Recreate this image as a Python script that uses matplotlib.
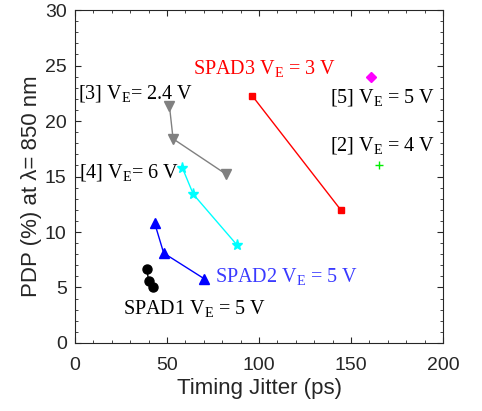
import matplotlib.pyplot as plt
from matplotlib.ticker import MultipleLocator

# Timing jitter (ps) vs PDP (%) at 850 nm
spad1_x = [39.0, 40.0, 42.3]
spad1_y = [6.7, 5.6, 5.0]
spad2_x = [43.3, 48.2, 70.1]
spad2_y = [10.8, 8.1, 5.8]
spad3_x = [96.2, 144.4]
spad3_y = [22.3, 12.0]
ref3_x = [51.3, 53.3, 82.2]
ref3_y = [21.4, 18.4, 15.2]
ref4_x = [58.3, 64.3, 88.2]
ref4_y = [15.8, 13.4, 8.8]
ref5_x = [160.9]
ref5_y = [24.0]
ref2_x = [165.0]
ref2_y = [16.0]

AXC = "#262626"
plt.rcParams.update({
    "font.family": "Liberation Sans",
    "mathtext.fontset": "custom",
    "mathtext.rm": "Liberation Serif",
})

fig = plt.figure(figsize=(4.82, 4.11), dpi=100)
ax = fig.add_axes([0.1556, 0.1655, 0.7635, 0.81])

ax.plot(spad1_x, spad1_y, "o-", color="black", ms=6.5, lw=1)
ax.plot(spad2_x, spad2_y, "^-", color="blue", ms=7, lw=1)
ax.plot(spad3_x, spad3_y, "s-", color="red", ms=5, lw=1)
ax.plot(ref3_x, ref3_y, "v-", color="gray", ms=7, lw=1)
ax.plot(ref4_x, ref4_y, "*-", color="cyan", ms=8, lw=1)
ax.plot(ref5_x, ref5_y, "D", color="magenta", ms=5)
ax.plot(ref2_x, ref2_y, "+", color="#00ee00", ms=6, mew=1)

tk = dict(family="Liberation Serif", fontsize=14.5)
ax.text(103, 24.7, r"SPAD3 V$_{\rm E}$ = 3 V", color="red", ha="center", va="center", **tk)
ax.text(138.5, 22.1, r"[5] V$_{\rm E}$ = 5 V", color="black", va="center", **tk)
ax.text(138.5, 17.8, r"[2] V$_{\rm E}$ = 4 V", color="black", va="center", **tk)
ax.text(1.5, 22.5, r"[3] V$_{\rm E}$= 2.4 V", color="black", va="center", **tk)
ax.text(2.0, 15.4, r"[4] V$_{\rm E}$= 6 V", color="black", va="center", **tk)
ax.text(76, 5.95, r"SPAD2 V$_{\rm E}$ = 5 V", color="#3a3aff", va="center", **tk)
ax.text(26, 3.0, r"SPAD1 V$_{\rm E}$ = 5 V", color="black", va="center", **tk)

ax.set_xlim(0, 200)
ax.set_ylim(0, 30)
ax.xaxis.set_major_locator(MultipleLocator(50))
ax.xaxis.set_minor_locator(MultipleLocator(10))
ax.yaxis.set_major_locator(MultipleLocator(5))
ax.yaxis.set_minor_locator(MultipleLocator(1))
ax.tick_params(which="both", direction="in", top=True, right=True,
               colors=AXC, labelsize=14)
ax.tick_params(axis="x", which="major", pad=10)
ax.tick_params(axis="y", which="major", pad=6)
ax.tick_params(which="major", length=4)
ax.tick_params(which="minor", length=2)
for s in ax.spines.values():
    s.set_color(AXC)
    s.set_linewidth(0.8)

ax.set_xlabel("Timing Jitter (ps)", fontsize=16, color=AXC, labelpad=3)
ax.set_ylabel("PDP (%) at λ= 850 nm", fontsize=16, color=AXC)
ax.yaxis.set_label_coords(-0.09, 0.47)

fig.savefig("out.png", dpi=100)
